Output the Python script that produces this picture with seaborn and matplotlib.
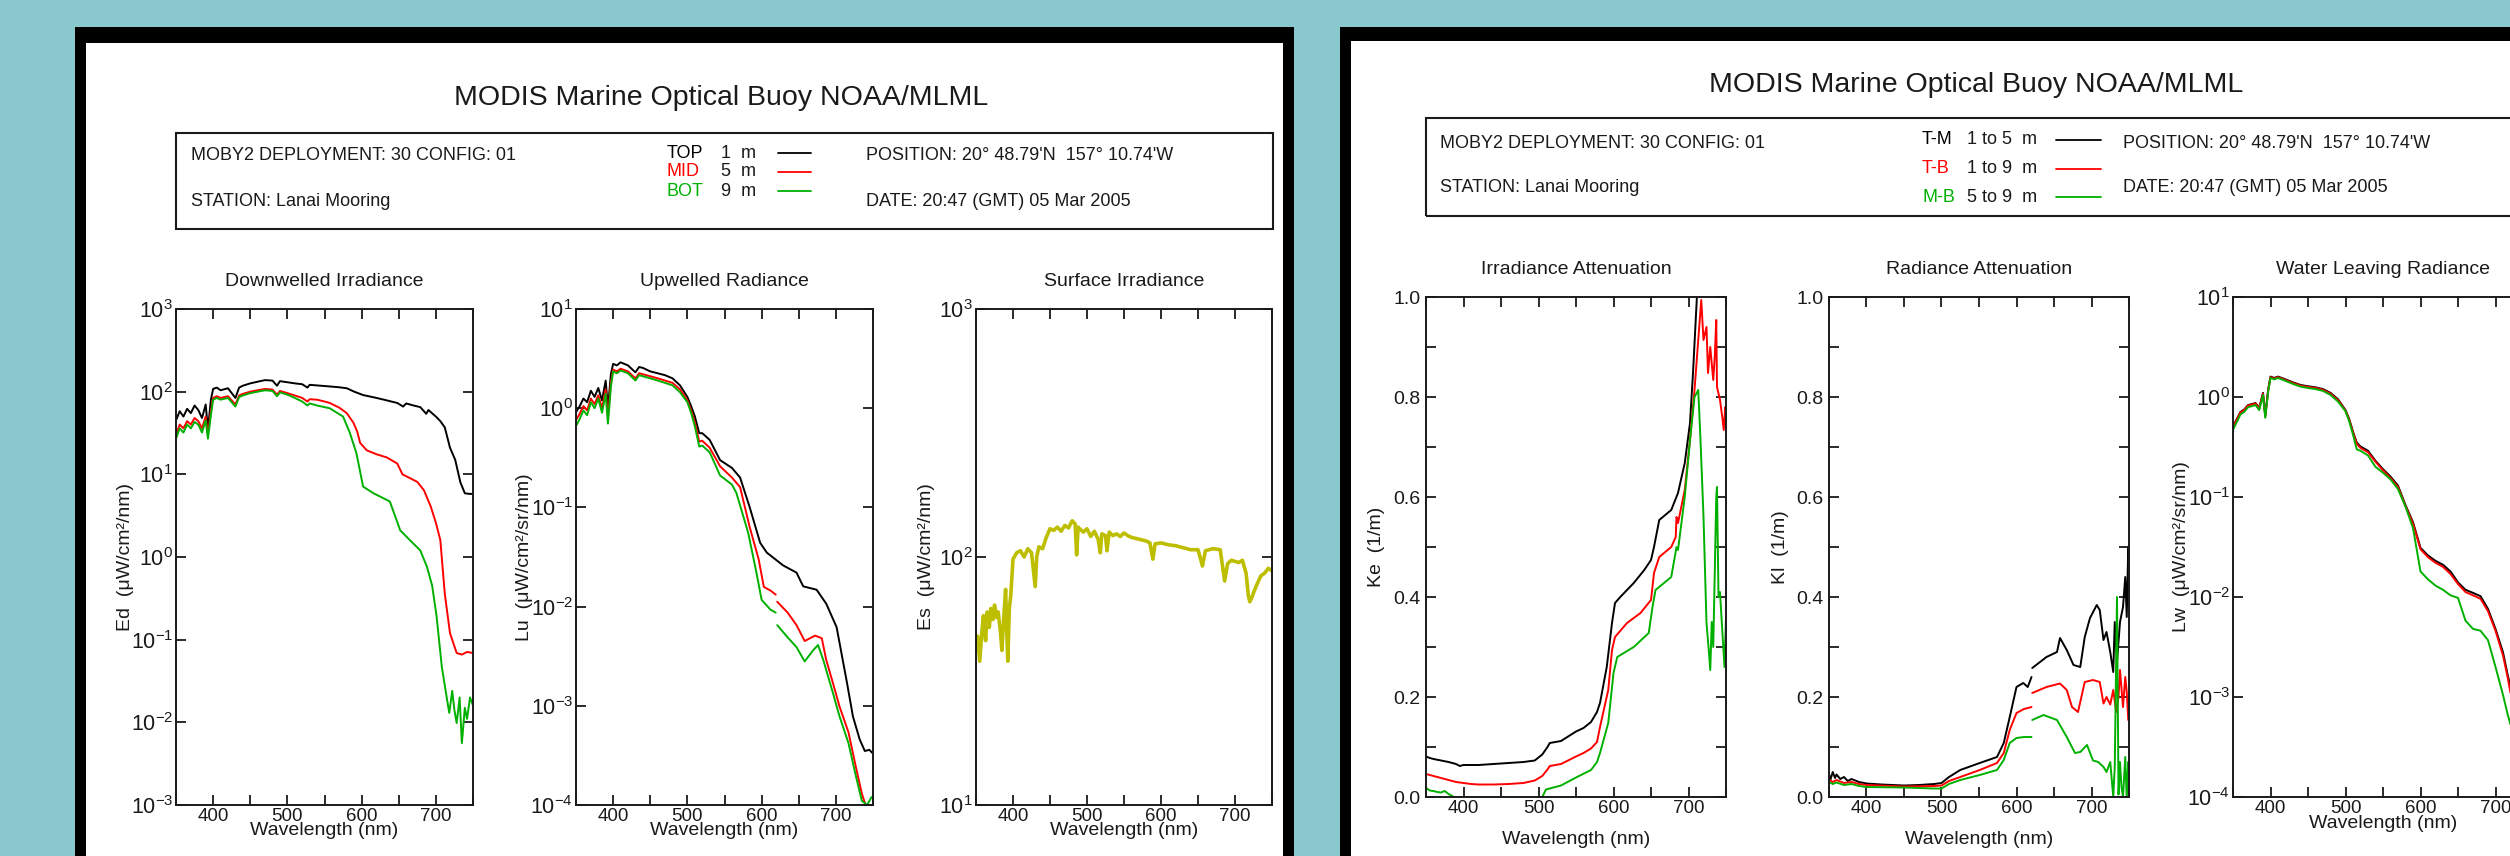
import numpy as np
import pandas as pd
import matplotlib
matplotlib.use("Agg")
import matplotlib.pyplot as plt
from matplotlib.patches import Rectangle
from matplotlib.lines import Line2D
from matplotlib.ticker import FixedLocator, NullLocator, FuncFormatter
import seaborn as sns

# ---------------------------------------------------------------- data
# spectra as (wavelength nm, value) pairs

ED_TOP = [(350,45),(355,58),(360,50),(365,62),(370,55),(375,68),(380,60),(385,48),(390,70),(393,35),(397,80),
          (400,108),(405,112),(410,104),(420,110),(430,84),(435,112),(440,118),(450,126),(460,132),(470,138),
          (480,136),(486,118),(490,134),(500,130),(510,126),(520,123),(527,112),(530,121),(540,119),(550,117),
          (560,115),(570,113),(580,110),(590,100),(602,91),(620,84),(630,80),(640,76),(648,73),(656,66),(660,72),
          (670,68),(679,65),(687,54),(690,60),(701,49),(706,44),(712,37),(719,21),(726,15),(733,8.0),(739,5.9),
          (745,5.8),(750,5.8)]
ED_MID = [(350,30),(355,40),(360,36),(365,44),(370,40),(375,48),(380,44),(385,36),(390,50),(393,30),(397,58),
          (400,84),(405,88),(410,84),(420,88),(430,70),(435,90),(440,94),(450,100),(460,104),(470,108),(480,106),
          (486,92),(490,102),(500,96),(510,90),(520,84),(527,76),(530,81),(540,80),(550,76),(557,73),(570,64),
          (580,55),(589,42),(594,33),(598,24),(607,19.5),(620,17.5),(634,16),(648,13.5),(655,10),(665,9),
          (675,8.1),(684,6.4),(693,4.1),(700,2.6),(706,1.6),(712,0.36),(719,0.12),(728,0.069),(735,0.066),
          (742,0.071),(750,0.069)]
ED_BOT = [(350,27),(355,36),(360,32),(365,40),(370,36),(375,43),(380,40),(385,32),(390,45),(393,27),(397,52),
          (400,80),(405,84),(410,80),(420,84),(430,66),(435,86),(440,90),(450,96),(460,100),(470,104),(480,102),
          (486,88),(490,98),(500,92),(510,84),(520,76),(527,68),(530,72),(540,68),(550,65),(557,63),(575,50),
          (584,32),(593,18),(602,7.1),(616,5.9),(638,4.7),(652,2.1),(665,1.6),(679,1.2),(688,0.76),(695,0.45),
          (701,0.19),(708,0.047),(715,0.019),(718,0.013),(722,0.024),(725,0.014),(728,0.0098),(732,0.02),
          (735,0.0056),(739,0.015),(742,0.011),(746,0.020),(750,0.016)]

LU_TOP = [(350,0.91),(355,1.05),(360,1.25),(365,1.15),(370,1.5),(375,1.3),(380,1.6),(385,1.2),(390,1.9),
          (393,1.0),(397,2.2),(400,2.8),(405,2.7),(410,2.9),(420,2.7),(430,2.3),(435,2.6),(440,2.55),(450,2.35),
          (460,2.25),(470,2.15),(480,2.0),(490,1.7),(500,1.3),(505,1.05),(510,0.83),(516,0.56),(520,0.56),
          (530,0.48),(544,0.30),(560,0.25),(571,0.20),(584,0.10),(598,0.044),(607,0.035),(629,0.026),
          (647,0.022),(656,0.016),(674,0.0148),(687,0.0107),(701,0.0062),(715,0.0017),(723,0.00078),
          (732,0.00046),(739,0.00035),(745,0.00036),(750,0.00033)]
LU_MID = [(350,0.76),(355,0.88),(360,1.05),(365,0.95),(370,1.25),(375,1.1),(380,1.35),(385,1.0),(390,1.55),
          (393,0.8),(397,1.8),(400,2.45),(405,2.35),(410,2.5),(420,2.35),(430,2.0),(435,2.25),(440,2.2),
          (450,2.1),(460,2.0),(470,1.9),(480,1.8),(490,1.55),(500,1.2),(505,0.95),(510,0.72),(516,0.46),
          (520,0.47),(530,0.40),(544,0.26),(560,0.20),(571,0.16),(584,0.063),(596,0.030),(603,0.0158),
          (612,0.0145),(619,0.0132),(621,0.0112),(635,0.0087),(647,0.0065),(658,0.0045),(672,0.0051),
          (681,0.0048),(687,0.0029),(696,0.0017),(705,0.00098),(717,0.00054),(726,0.00026),(735,0.00013),
          (740,0.0001),(745,0.00008)]
LU_BOT = [(350,0.66),(355,0.78),(360,0.95),(365,0.85),(370,1.15),(375,1.0),(380,1.25),(385,0.9),(390,1.4),
          (393,0.7),(397,1.65),(400,2.35),(405,2.25),(410,2.4),(420,2.25),(430,1.9),(435,2.15),(440,2.1),
          (450,2.0),(460,1.9),(470,1.8),(480,1.7),(490,1.45),(500,1.15),(505,0.9),(510,0.66),(516,0.41),
          (520,0.42),(530,0.36),(544,0.21),(560,0.17),(566,0.14),(582,0.055),(593,0.022),(600,0.0117),
          (612,0.0093),(619,0.0087),(621,0.0065),(635,0.0049),(647,0.0039),(658,0.0028),(669,0.0036),
          (676,0.0041),(683,0.0029),(696,0.00135),(705,0.00078),(717,0.00042),(726,0.00021),(735,0.00011),
          (742,0.0001),(748,0.00012)]

ES = [(350,42),(352,48),(355,38),(358,50),(360,58),(363,46),(365,60),(368,52),(370,62),(373,56),(375,64),
      (378,57),(380,60),(383,50),(385,42),(388,60),(390,74),(392,46),(393,38),(395,62),(397,70),(400,98),
      (405,104),(410,106),(415,100),(420,108),(425,104),(430,76),(432,100),(435,110),(440,108),(445,120),
      (450,130),(455,128),(460,132),(465,127),(470,134),(475,131),(480,140),(484,136),(486,102),(488,132),
      (490,130),(495,126),(500,130),(505,121),(510,127),(515,118),(518,104),(520,124),(525,122),(527,106),
      (530,126),(535,122),(540,124),(545,121),(550,125),(555,122),(560,120),(565,119),(570,118),(575,117),
      (580,116),(585,114),(589,98),(592,113),(600,114),(610,112),(620,111),(630,109),(640,107),(650,107),
      (656,92),(660,106),(670,108),(680,107),(686,80),(690,94),(695,97),(700,96),(705,95),(710,97),
      (715,86),(718,70),(720,66),(723,69),(726,73),(730,78),(735,84),(740,86),(745,90),(750,88)]

KE_TM = [(350,0.081),(355,0.078),(360,0.076),(370,0.073),(380,0.070),(390,0.066),(395,0.062),(400,0.064),
         (420,0.064),(440,0.066),(460,0.068),(480,0.070),(495,0.073),(505,0.085),(512,0.100),(515,0.108),
         (530,0.112),(550,0.131),(560,0.138),(570,0.150),(578,0.170),(582,0.188),(591,0.26),(598,0.348),
         (602,0.388),(609,0.40),(627,0.428),(641,0.454),(650,0.474),(654,0.50),(661,0.554),(677,0.574),
         (686,0.608),(695,0.668),(702,0.748),(706,0.848),(711,0.994),(713,1.05)]
KE_TB = [(350,0.046),(355,0.044),(360,0.042),(370,0.038),(380,0.034),(390,0.030),(400,0.028),(410,0.026),
         (420,0.025),(440,0.025),(460,0.026),(480,0.028),(495,0.033),(505,0.042),(512,0.055),(515,0.062),
         (530,0.066),(550,0.081),(560,0.088),(570,0.097),(578,0.11),(582,0.14),(593,0.214),(598,0.294),
         (602,0.32),(618,0.348),(636,0.368),(650,0.394),(654,0.448),(661,0.48),(677,0.50),(683,0.52),
         (684,0.56),(686,0.548),(695,0.614),(702,0.714),(708,0.814),(713,0.914),(717,0.994),(720,0.914),
         (724,0.94),(726,0.848),(729,0.90),(733,0.834),(735,0.88),(737,0.954),(738,0.82),(742,0.794),
         (745,0.76),(747,0.734),(749,0.78),(750,0.76)]
KE_MB = [(350,0.018),(355,0.013),(360,0.012),(365,0.010),(370,0.009),(375,0.012),(380,0.006),(385,0.002),
         (390,-0.005),(400,-0.012),(430,-0.018),(460,-0.016),(490,-0.010),(505,0.0),(510,0.015),(530,0.023),
         (550,0.039),(570,0.054),(578,0.07),(582,0.088),(593,0.148),(600,0.248),(605,0.28),(627,0.30),
         (647,0.328),(652,0.38),(656,0.414),(677,0.44),(684,0.50),(686,0.494),(695,0.60),(702,0.714),
         (708,0.80),(713,0.814),(716,0.714),(720,0.56),(724,0.348),(727,0.294),(729,0.254),(731,0.35),
         (733,0.30),(735,0.448),(737,0.60),(738,0.62),(740,0.40),(742,0.41),(745,0.334),(748,0.26),(750,0.36)]

KL_TM = [(350,0.046),(352,0.035),(355,0.050),(358,0.038),(360,0.045),(365,0.036),(370,0.040),(375,0.032),
         (380,0.036),(390,0.030),(400,0.027),(420,0.025),(450,0.023),(470,0.024),(490,0.026),(500,0.028),
         (510,0.040),(525,0.054),(551,0.068),(574,0.08),(583,0.108),(591,0.16),(600,0.22),(609,0.228),
         (615,0.22),(620,0.24),(621,0.258),(640,0.28),(654,0.29),(658,0.318),(667,0.294),(676,0.264),
         (685,0.26),(691,0.32),(698,0.358),(707,0.384),(711,0.374),(716,0.314),(720,0.33),(725,0.29),
         (729,0.25),(731,0.35),(734,0.27),(738,0.35),(742,0.38),(745,0.44),(747,0.36),(749,0.50),(750,0.42)]
KL_TB = [(350,0.035),(355,0.030),(360,0.034),(370,0.028),(380,0.030),(390,0.026),(400,0.024),(450,0.021),
         (490,0.022),(500,0.023),(510,0.032),(525,0.040),(551,0.054),(574,0.068),(583,0.088),(591,0.134),
         (600,0.168),(610,0.176),(620,0.18),(621,0.208),(640,0.22),(658,0.227),(667,0.214),(674,0.18),
         (682,0.17),(691,0.23),(702,0.234),(711,0.23),(716,0.187),(720,0.20),(725,0.185),(729,0.214),
         (733,0.17),(736,0.20),(738,0.254),(742,0.18),(745,0.24),(747,0.21),(749,0.154),(750,0.20)]
KL_MB = [(350,0.030),(355,0.026),(360,0.029),(370,0.024),(380,0.026),(390,0.022),(400,0.020),(450,0.019),
         (490,0.017),(500,0.017),(510,0.026),(525,0.034),(551,0.044),(574,0.054),(583,0.074),(591,0.108),
         (600,0.118),(610,0.12),(620,0.12),(621,0.154),(636,0.164),(654,0.154),(667,0.12),(678,0.088),
         (685,0.09),(694,0.104),(702,0.073),(709,0.07),(716,0.06),(720,0.05),(725,0.07),(729,0.0),
         (731,0.06),(734,0.40),(736,0.005),(738,0.07),(740,0.02),(742,0.0),(745,0.08),(747,-0.005),
         (749,0.07),(750,0.02)]

LW_TM = [(350,0.51),(355,0.6),(360,0.71),(365,0.75),(370,0.83),(375,0.85),(380,0.87),(385,0.78),(390,1.1),
         (393,0.65),(397,1.2),(400,1.6),(405,1.55),(410,1.6),(415,1.55),(420,1.5),(430,1.4),(440,1.32),
         (450,1.28),(460,1.25),(470,1.2),(480,1.1),(490,0.95),(500,0.74),(505,0.6),(510,0.45),(515,0.35),
         (520,0.32),(530,0.29),(540,0.23),(550,0.19),(560,0.16),(570,0.13),(580,0.083),(590,0.056),
         (600,0.031),(610,0.026),(620,0.023),(630,0.021),(640,0.018),(650,0.014),(660,0.0118),(670,0.0110),
         (680,0.0102),(690,0.0076),(700,0.0048),(710,0.0028),(716,0.0017),(720,0.00125)]
LW_TB = [(350,0.50),(355,0.59),(360,0.70),(365,0.74),(370,0.82),(375,0.84),(380,0.86),(385,0.77),(390,1.08),
         (393,0.64),(397,1.18),(400,1.58),(405,1.53),(410,1.58),(415,1.53),(420,1.48),(430,1.38),(440,1.30),
         (450,1.26),(460,1.23),(470,1.18),(480,1.08),(490,0.93),(500,0.73),(505,0.59),(510,0.44),(515,0.34),
         (520,0.31),(530,0.28),(540,0.225),(550,0.185),(560,0.155),(570,0.126),(580,0.081),(590,0.054),
         (600,0.030),(610,0.025),(620,0.022),(630,0.020),(640,0.017),(650,0.0135),(660,0.0112),(670,0.0104),
         (680,0.0096),(690,0.0072),(700,0.0046),(710,0.0026),(716,0.0016),(720,0.0011)]
LW_MB = [(350,0.47),(355,0.56),(360,0.67),(365,0.71),(370,0.79),(375,0.81),(380,0.83),(385,0.74),(390,1.05),
         (393,0.62),(397,1.15),(400,1.55),(405,1.5),(410,1.55),(415,1.5),(420,1.45),(430,1.35),(440,1.27),
         (450,1.23),(460,1.2),(470,1.15),(480,1.05),(490,0.9),(500,0.72),(505,0.57),(510,0.42),(515,0.30),
         (520,0.29),(530,0.26),(540,0.20),(550,0.175),(560,0.15),(570,0.12),(580,0.080),(590,0.049),
         (600,0.018),(610,0.015),(620,0.013),(630,0.0118),(640,0.0104),(650,0.0098),(660,0.0058),
         (670,0.0048),(680,0.0046),(690,0.0037),(700,0.0020),(710,0.00105),(716,0.00068),(720,0.00053)]

WL_LABELLED = [400, 500, 600, 700]
WL_MINOR = [350, 450, 550, 650, 750]
K_LABELLED = [0.0, 0.2, 0.4, 0.6, 0.8, 1.0]
K_MINOR = [0.1, 0.3, 0.5, 0.7, 0.9]

HEADER_LEFT = ["MOBY2 DEPLOYMENT: 30 CONFIG: 01", "STATION: Lanai Mooring"]
HEADER_RIGHT = ["POSITION: 20\u00b0 48.79'N  157\u00b0 10.74'W", "DATE: 20:47 (GMT) 05 Mar 2005"]
DEPTH_TAGS = ["TOP", "MID", "BOT"]
DEPTH_TEXT = ["1  m", "5  m", "9  m"]
PAIR_TAGS = ["T-M", "T-B", "M-B"]
PAIR_TEXT = ["1 to 5  m", "1 to 9  m", "5 to 9  m"]
TITLE = "MODIS Marine Optical Buoy NOAA/MLML"

# ---------------------------------------------------------------- style
TEAL = "#89C9CE"
COLORS = ["#000000", "#FF0000", "#00B000"]
C_ES = "#BEBE00"
INK = "#1a1a1a"

sns.set_style("ticks")
plt.rcParams["font.family"] = ["Liberation Sans", "DejaVu Sans"]
plt.rcParams["mathtext.fontset"] = "custom"
plt.rcParams["mathtext.rm"] = "Liberation Sans"
plt.rcParams["mathtext.it"] = "Liberation Sans:italic"
plt.rcParams["mathtext.default"] = "regular"

W, H = 2510, 856
fig = plt.figure(figsize=(W / 100, H / 100), dpi=100)
fig.patch.set_facecolor(TEAL)


def fx(x):
    return x / W


def fy(y):
    return 1 - y / H


def rect(x0, y0, x1, y1, **kw):
    fig.patches.append(Rectangle((fx(x0), fy(y1)), (x1 - x0) / W, (y1 - y0) / H,
                                 transform=fig.transFigure, **kw))


def seg(x0, x1, y, color):
    fig.add_artist(Line2D([fx(x0), fx(x1)], [fy(y), fy(y)], transform=fig.transFigure,
                          color=color, lw=1.3))


def txt(x, y, s, size=13, color=INK, ha="left"):
    fig.text(fx(x), fy(y), s, fontsize=size, color=color, ha=ha, va="center")


# two report pages with thick black frames
rect(75, 27, 1294, 900, facecolor="black", edgecolor="none", zorder=-20)
rect(86, 43, 1283, 900, facecolor="white", edgecolor="none", zorder=-19)
rect(1340, 27, 2700, 900, facecolor="black", edgecolor="none", zorder=-20)
rect(1351, 41, 2700, 900, facecolor="white", edgecolor="none", zorder=-19)

# page headers
txt(721, 98, TITLE, size=20.5, ha="center")
txt(1976, 85, TITLE, size=20.5, ha="center")
rect(176, 133, 1273, 229, facecolor="none", edgecolor=INK, lw=1.5, zorder=-5)
rect(1426, 118, 2700, 216, facecolor="none", edgecolor=INK, lw=1.5, zorder=-5)

txt(191, 156, HEADER_LEFT[0])
txt(191, 201, HEADER_LEFT[1])
txt(866, 156, HEADER_RIGHT[0])
txt(866, 201, HEADER_RIGHT[1])
for i, (tag, t, c) in enumerate(zip(DEPTH_TAGS, DEPTH_TEXT, COLORS)):
    y = 153 + 19 * i
    txt(667, y, tag, color=c)
    txt(721, y, t)
    seg(778, 811, y, c)

txt(1440, 143, HEADER_LEFT[0])
txt(1440, 188, HEADER_LEFT[1])
txt(2123, 143, HEADER_RIGHT[0])
txt(2123, 188, HEADER_RIGHT[1])
for i, (tag, t, c) in enumerate(zip(PAIR_TAGS, PAIR_TEXT, COLORS)):
    y = 140 + 28.5 * i
    txt(1922, y, tag, color=c)
    txt(1967, y, t)
    seg(2056, 2101, y, c)


# ---------------------------------------------------------------- panels
def trace(ax, pairs, color, lw=1.4, gap=None):
    wl = [p[0] for p in pairs]
    val = [p[1] for p in pairs]
    part = [0 if (gap is None or w <= gap) else 1 for w in wl]
    df = pd.DataFrame({"wl": wl, "val": val, "part": part})
    sns.lineplot(data=df, x="wl", y="val", units="part", estimator=None, sort=False,
                 color=color, linewidth=lw, ax=ax, legend=False)


def panel(x0, x1, y0, y1, title, ylabel, log_range, ylab_x, xlab_y):
    ax = fig.add_axes([fx(x0), fy(y1), (x1 - x0) / W, (y1 - y0) / H])
    ax.set_facecolor("white")
    if log_range is not None:
        ax.set_yscale("log")
    return ax, (title, ylabel, log_range, ylab_x, xlab_y)


def finish(ax, spec):
    title, ylabel, log_range, ylab_x, xlab_y = spec
    ax.set_xlim(350, 750)
    ax.xaxis.set_major_locator(FixedLocator(WL_LABELLED))
    ax.xaxis.set_minor_locator(FixedLocator(WL_MINOR))
    ax.tick_params(which="both", direction="in", top=True, right=True,
                   length=7.5, width=1.3, color=INK)
    ax.tick_params(which="major", labelsize=13.5, pad=2, labelcolor=INK)
    if log_range is not None:
        lo, hi = log_range
        ax.set_ylim(10.0 ** lo, 10.0 ** hi)
        ax.yaxis.set_major_locator(FixedLocator([10.0 ** k for k in range(lo, hi + 1)]))
        ax.yaxis.set_minor_locator(NullLocator())
        ax.yaxis.set_major_formatter(
            FuncFormatter(lambda v, p: r"$10^{%d}$" % int(round(np.log10(v)))))
        ax.tick_params(axis="y", which="major", labelsize=15.5, pad=2)
    else:
        ax.set_ylim(0, 1)
        ax.yaxis.set_major_locator(FixedLocator(K_LABELLED))
        ax.yaxis.set_minor_locator(FixedLocator(K_MINOR))
        ax.yaxis.set_major_formatter(FuncFormatter(lambda v, p: f"{v:.1f}"))
        ax.tick_params(axis="y", which="major", labelsize=14, pad=4)
    for s in ax.spines.values():
        s.set_linewidth(1.4)
        s.set_color(INK)
    ax.set_title(title, fontsize=14, pad=16.5, color=INK)
    ax.set_ylabel(ylabel, fontsize=14, color=INK)
    ax.set_xlabel("Wavelength (nm)", fontsize=14, color=INK)
    ax.yaxis.set_label_coords(ylab_x, 0.5)
    ax.xaxis.set_label_coords(0.5, xlab_y)


UNIT_E = "(\u03bcW/cm\u00b2/nm)"
UNIT_L = "(\u03bcW/cm\u00b2/sr/nm)"

ax, spec = panel(176, 473, 309, 805, "Downwelled Irradiance", "Ed  " + UNIT_E, (-3, 3), -0.141, -0.034)
for pairs, c in zip([ED_TOP, ED_MID, ED_BOT], COLORS):
    trace(ax, pairs, c)
finish(ax, spec)

ax, spec = panel(576, 873, 309, 805, "Upwelled Radiance", "Lu  " + UNIT_L, (-4, 1), -0.145, -0.034)
trace(ax, LU_TOP, COLORS[0])
trace(ax, LU_MID, COLORS[1], gap=620)
trace(ax, LU_BOT, COLORS[2], gap=620)
finish(ax, spec)

ax, spec = panel(976, 1272, 309, 805, "Surface Irradiance", "Es  " + UNIT_E, (1, 3), -0.139, -0.034)
trace(ax, ES, C_ES, lw=2.6)
finish(ax, spec)

ax, spec = panel(1426, 1726, 297, 797, "Irradiance Attenuation", "Ke  (1/m)", None, -0.137, -0.068)
for pairs, c in zip([KE_TM, KE_TB, KE_MB], COLORS):
    trace(ax, pairs, c)
finish(ax, spec)

ax, spec = panel(1829, 2129, 297, 797, "Radiance Attenuation", "Kl  (1/m)", None, -0.133, -0.068)
for pairs, c in zip([KL_TM, KL_TB, KL_MB], COLORS):
    trace(ax, pairs, c, gap=620)
finish(ax, spec)

ax, spec = panel(2233, 2533, 297, 797, "Water Leaving Radiance", "Lw  " + UNIT_L, (-4, 1), -0.143, -0.036)
for pairs, c in zip([LW_TM, LW_TB, LW_MB], COLORS):
    trace(ax, pairs, c)
finish(ax, spec)

fig.savefig("out.png", dpi=100, facecolor=TEAL)
